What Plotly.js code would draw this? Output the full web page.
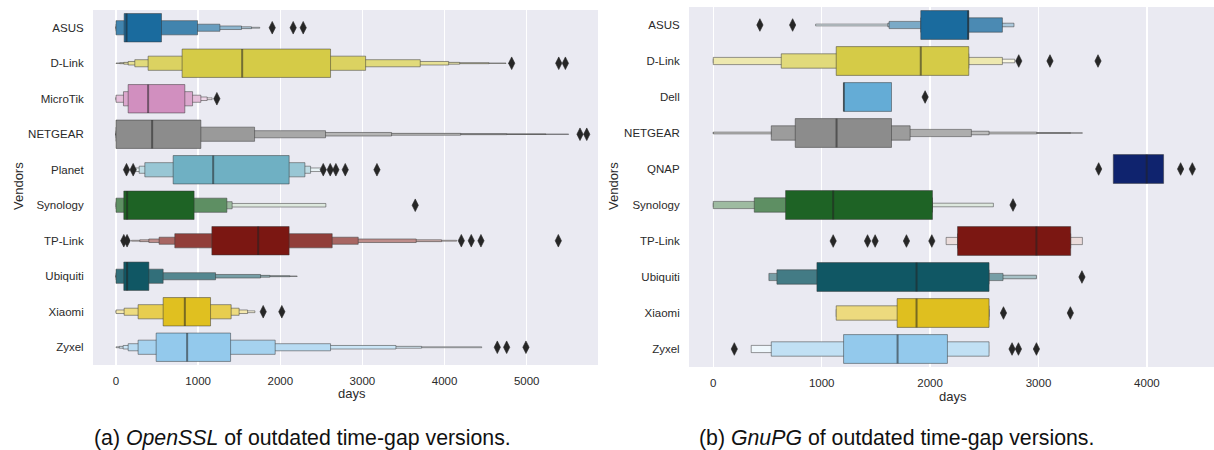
<!DOCTYPE html>
<html><head><meta charset="utf-8">
<script src="https://cdn.plot.ly/plotly-3.0.1.min.js"></script>
<style>html,body{margin:0;padding:0;background:#fff;} #chart{width:1214px;height:450px;}</style>
</head><body><div id="chart"></div>
<script>
// ---------- (a) OpenSSL ----------
const vendorsSSL = ['ASUS','D-Link','MicroTik','NETGEAR','Planet','Synology','TP-Link','Ubiquiti','Xiaomi','Zyxel'];
const colorsSSL = ['#1a6b9e','#d5cb47','#d18fbf','#8c8c8c','#6fb0c3','#1e6325','#7b1712','#105764','#e0c020','#93c9ec'];
const mediansSSL = [128,1536,391,440,1183,135,1731,135,838,866];
// letter-value boxes [low, high], innermost first
const sslASUS     = [[99,554],[0,993],[0,1265],[0,1528],[0,1650],[0,1750]];
const sslDLink    = [[805,2612],[391,3039],[229,3704],[148,4050],[95,4184],[46,4541],[0,4748]];
const sslMicroTik = [[148,838],[91,932],[0,1033],[0,1110],[0,1170]];
const sslNETGEAR  = [[0,1033],[0,1687],[0,2551],[0,3355],[0,4196],[0,4756],[0,5235],[0,5511]];
const sslPlanet   = [[696,2108],[351,2300],[282,2369],[240,2503]];
const sslSynology = [[95,951],[0,1350],[0,1414],[0,2555]];
const sslTPLink   = [[1167,2108],[716,2632],[525,2949],[400,3655],[290,3964],[189,4147]];
const sslUbiquiti = [[95,400],[0,574],[0,1212],[0,1760],[0,1873],[0,2117],[0,2206]];
const sslXiaomi   = [[574,1151],[269,1402],[99,1499],[0,1602],[0,1691]];
const sslZyxel    = [[489,1395],[269,1938],[148,2612],[87,3408],[40,3721],[0,4452]];
const outSSL_ASUS = [1902,2157,2279];
const outSSL_DLink = [4817,5390,5471];
const outSSL_MicroTik = [1228];
const outSSL_NETGEAR = [5649,5731];
const outSSL_Planet = [128,209,2523,2608,2677,2791,3177];
const outSSL_Synology = [3643];
const outSSL_TPLink = [95,135,4204,4325,4443,5385];
const outSSL_Ubiquiti = [];
const outSSL_Xiaomi = [1792,2019];
const outSSL_Zyxel = [4642,4756,4991];
const ticksSSL = [0,1000,2000,3000,4000,5000];

// ---------- (b) GnuPG ----------
const vendorsGPG = ['ASUS','D-Link','Dell','NETGEAR','QNAP','Synology','TP-Link','Ubiquiti','Xiaomi','Zyxel'];
const colorsGPG = ['#1a6b9e','#d5cb47','#64acd6','#8c8c8c','#0f236e','#1e6325','#7b1712','#105764','#dfbf1f','#93c9ec'];
const mediansGPG = [2350,1914,1205,1137,3998,1106,2981,1875,1875,1700];
const gpgASUS     = [[1914,2357],[1914,2667],[1622,2660],[1610,2774],[944,2700]];
const gpgDLink    = [[1134,2357],[627,2357],[0,2667],[0,2781]];
const gpgDell     = [[1202,1644]];
const gpgNETGEAR  = [[756,1644],[535,1816],[540,2381],[545,2544],[0,2984],[0,3294],[0,3405]];
const gpgQNAP     = [[3690,4154]];
const gpgSynology = [[667,2022],[378,2022],[0,2022],[0,2584]];
const gpgTPLink   = [[2253,3297],[2253,3297],[2148,3405]];
const gpgUbiquiti = [[956,2544],[587,2544],[513,2673],[520,2981],[520,2975]];
const gpgXiaomi   = [[1696,2544],[1134,2544],[1134,2544]];
const gpgZyxel    = [[1202,2160],[535,2544],[350,2540]];
const outGPG_ASUS = [430,732];
const outGPG_DLink = [2818,3106,3549];
const outGPG_Dell = [1954];
const outGPG_NETGEAR = [];
const outGPG_QNAP = [3555,4311,4419];
const outGPG_Synology = [2765];
const outGPG_TPLink = [1106,1423,1493,1782,2016];
const outGPG_Ubiquiti = [3401];
const outGPG_Xiaomi = [2677,3294];
const outGPG_Zyxel = [194,2756,2815,2981];
const ticksGPG = [0,1000,2000,3000,4000];

const levelsSSL = [sslASUS,sslDLink,sslMicroTik,sslNETGEAR,sslPlanet,sslSynology,sslTPLink,sslUbiquiti,sslXiaomi,sslZyxel];
const outliersSSL = [outSSL_ASUS,outSSL_DLink,outSSL_MicroTik,outSSL_NETGEAR,outSSL_Planet,outSSL_Synology,outSSL_TPLink,outSSL_Ubiquiti,outSSL_Xiaomi,outSSL_Zyxel];
const levelsGPG = [gpgASUS,gpgDLink,gpgDell,gpgNETGEAR,gpgQNAP,gpgSynology,gpgTPLink,gpgUbiquiti,gpgXiaomi,gpgZyxel];
const outliersGPG = [outGPG_ASUS,outGPG_DLink,outGPG_Dell,outGPG_NETGEAR,outGPG_QNAP,outGPG_Synology,outGPG_TPLink,outGPG_Ubiquiti,outGPG_Xiaomi,outGPG_Zyxel];

function hexToRgb(h){h=h.replace('#','');return [0,2,4].map(i=>parseInt(h.substr(i,2),16));}
function mix(h,f){const c=hexToRgb(h);return 'rgb('+c.map(v=>Math.round(v+(255-v)*f)).join(',')+')';}

const EDGE = 'rgba(55,55,55,0.5)';
function panel(vendors, colors, levels, medians, outliers, xa, ya){
  const tr=[];
  vendors.forEach((v,i)=>{
    const lv=levels[i], n=lv.length;
    const ys=[],xs=[],bs=[],ws=[],cs=[];
    for(let k=n-1;k>=0;k--){
      ys.push(i); bs.push(lv[k][0]); xs.push(lv[k][1]-lv[k][0]);
      ws.push(0.8*Math.pow(0.5,k));
      cs.push(mix(colors[i], n>1 ? 0.85*k/(n-1) : 0));
    }
    tr.push({type:'bar',orientation:'h',y:ys,x:xs,base:bs,width:ws,xaxis:xa,yaxis:ya,
      marker:{color:cs,line:{color:EDGE,width:1}},showlegend:false,hoverinfo:'skip'});
  });
  const mx=[],my=[];
  medians.forEach((m,i)=>{mx.push(m,m,null);my.push(i-0.4,i+0.4,null);});
  tr.push({type:'scatter',mode:'lines',x:mx,y:my,xaxis:xa,yaxis:ya,
    line:{color:'rgba(35,35,35,0.55)',width:2},showlegend:false,hoverinfo:'skip'});
  const ox=[],oy=[];
  outliers.forEach((arr,i)=>arr.forEach(v=>{ox.push(v);oy.push(i);}));
  tr.push({type:'scatter',mode:'markers',x:ox,y:oy,xaxis:xa,yaxis:ya,
    marker:{symbol:'diamond-tall',size:9,color:'#262626',line:{width:0.6,color:'#262626'}},
    showlegend:false,hoverinfo:'skip'});
  return tr;
}

const data = panel(vendorsSSL,colorsSSL,levelsSSL,mediansSSL,outliersSSL,'x','y')
  .concat(panel(vendorsGPG,colorsGPG,levelsGPG,mediansGPG,outliersGPG,'x2','y2'));

const W=1214,H=450;
const FONT='Liberation Sans, Arial, sans-serif';
const tickFont={family:FONT,size:11.5,color:'#2a2a2a'};
function xax(domain,range,ticks){return {domain:domain,range:range,tickvals:ticks,ticktext:ticks.map(String),
  showgrid:true,gridcolor:'#ffffff',gridwidth:1.3,zeroline:false,showline:false,
  ticks:'outside',ticklen:5,tickcolor:'rgba(0,0,0,0)',tickfont:tickFont,fixedrange:true};}
function yax(domain,labels,anchor){return {domain:domain,range:[9.5,-0.5],tickvals:labels.map((l,i)=>i),ticktext:labels,
  showgrid:false,zeroline:false,showline:false,anchor:anchor,
  ticks:'outside',ticklen:6,tickcolor:'rgba(0,0,0,0)',tickfont:tickFont,fixedrange:true};}

const titleFont={family:FONT,size:13,color:'#2a2a2a'};
const layout={
  width:W,height:H,margin:{l:0,r:0,t:0,b:0},
  paper_bgcolor:'#ffffff',plot_bgcolor:'#eaeaf2',barmode:'overlay',showlegend:false,
  xaxis:Object.assign(xax([93/W,598/W],[-280,5868],ticksSSL),{anchor:'y'}),
  yaxis:yax([1-365/H,1-10/H],vendorsSSL,'x'),
  xaxis2:Object.assign(xax([689/W,1],[-224,4619],ticksGPG),{anchor:'y2'}),
  yaxis2:yax([1-367/H,1-7/H],vendorsGPG,'x2'),
  annotations:[
    {text:'Vendors',xref:'paper',yref:'paper',x:18/W,y:1-186/H,textangle:-90,showarrow:false,font:titleFont,xanchor:'center',yanchor:'middle'},
    {text:'Vendors',xref:'paper',yref:'paper',x:613/W,y:1-186/H,textangle:-90,showarrow:false,font:titleFont,xanchor:'center',yanchor:'middle'},
    {text:'days',xref:'paper',yref:'paper',x:351.5/W,y:1-393.5/H,showarrow:false,font:titleFont,xanchor:'center',yanchor:'middle'},
    {text:'days',xref:'paper',yref:'paper',x:953/W,y:1-396.5/H,showarrow:false,font:titleFont,xanchor:'center',yanchor:'middle'},
    {text:'(a) <i>OpenSSL</i> of outdated time-gap versions.',xref:'paper',yref:'paper',x:92/W,y:1-438/H,showarrow:false,
      font:{family:FONT,size:21.3,color:'#111'},xanchor:'left',yanchor:'middle'},
    {text:'(b) <i>GnuPG</i> of outdated time-gap versions.',xref:'paper',yref:'paper',x:697/W,y:1-438/H,showarrow:false,
      font:{family:FONT,size:21.3,color:'#111'},xanchor:'left',yanchor:'middle'}
  ]
};
Plotly.newPlot('chart',data,layout,{displayModeBar:false,staticPlot:true});
</script>
</body></html>
